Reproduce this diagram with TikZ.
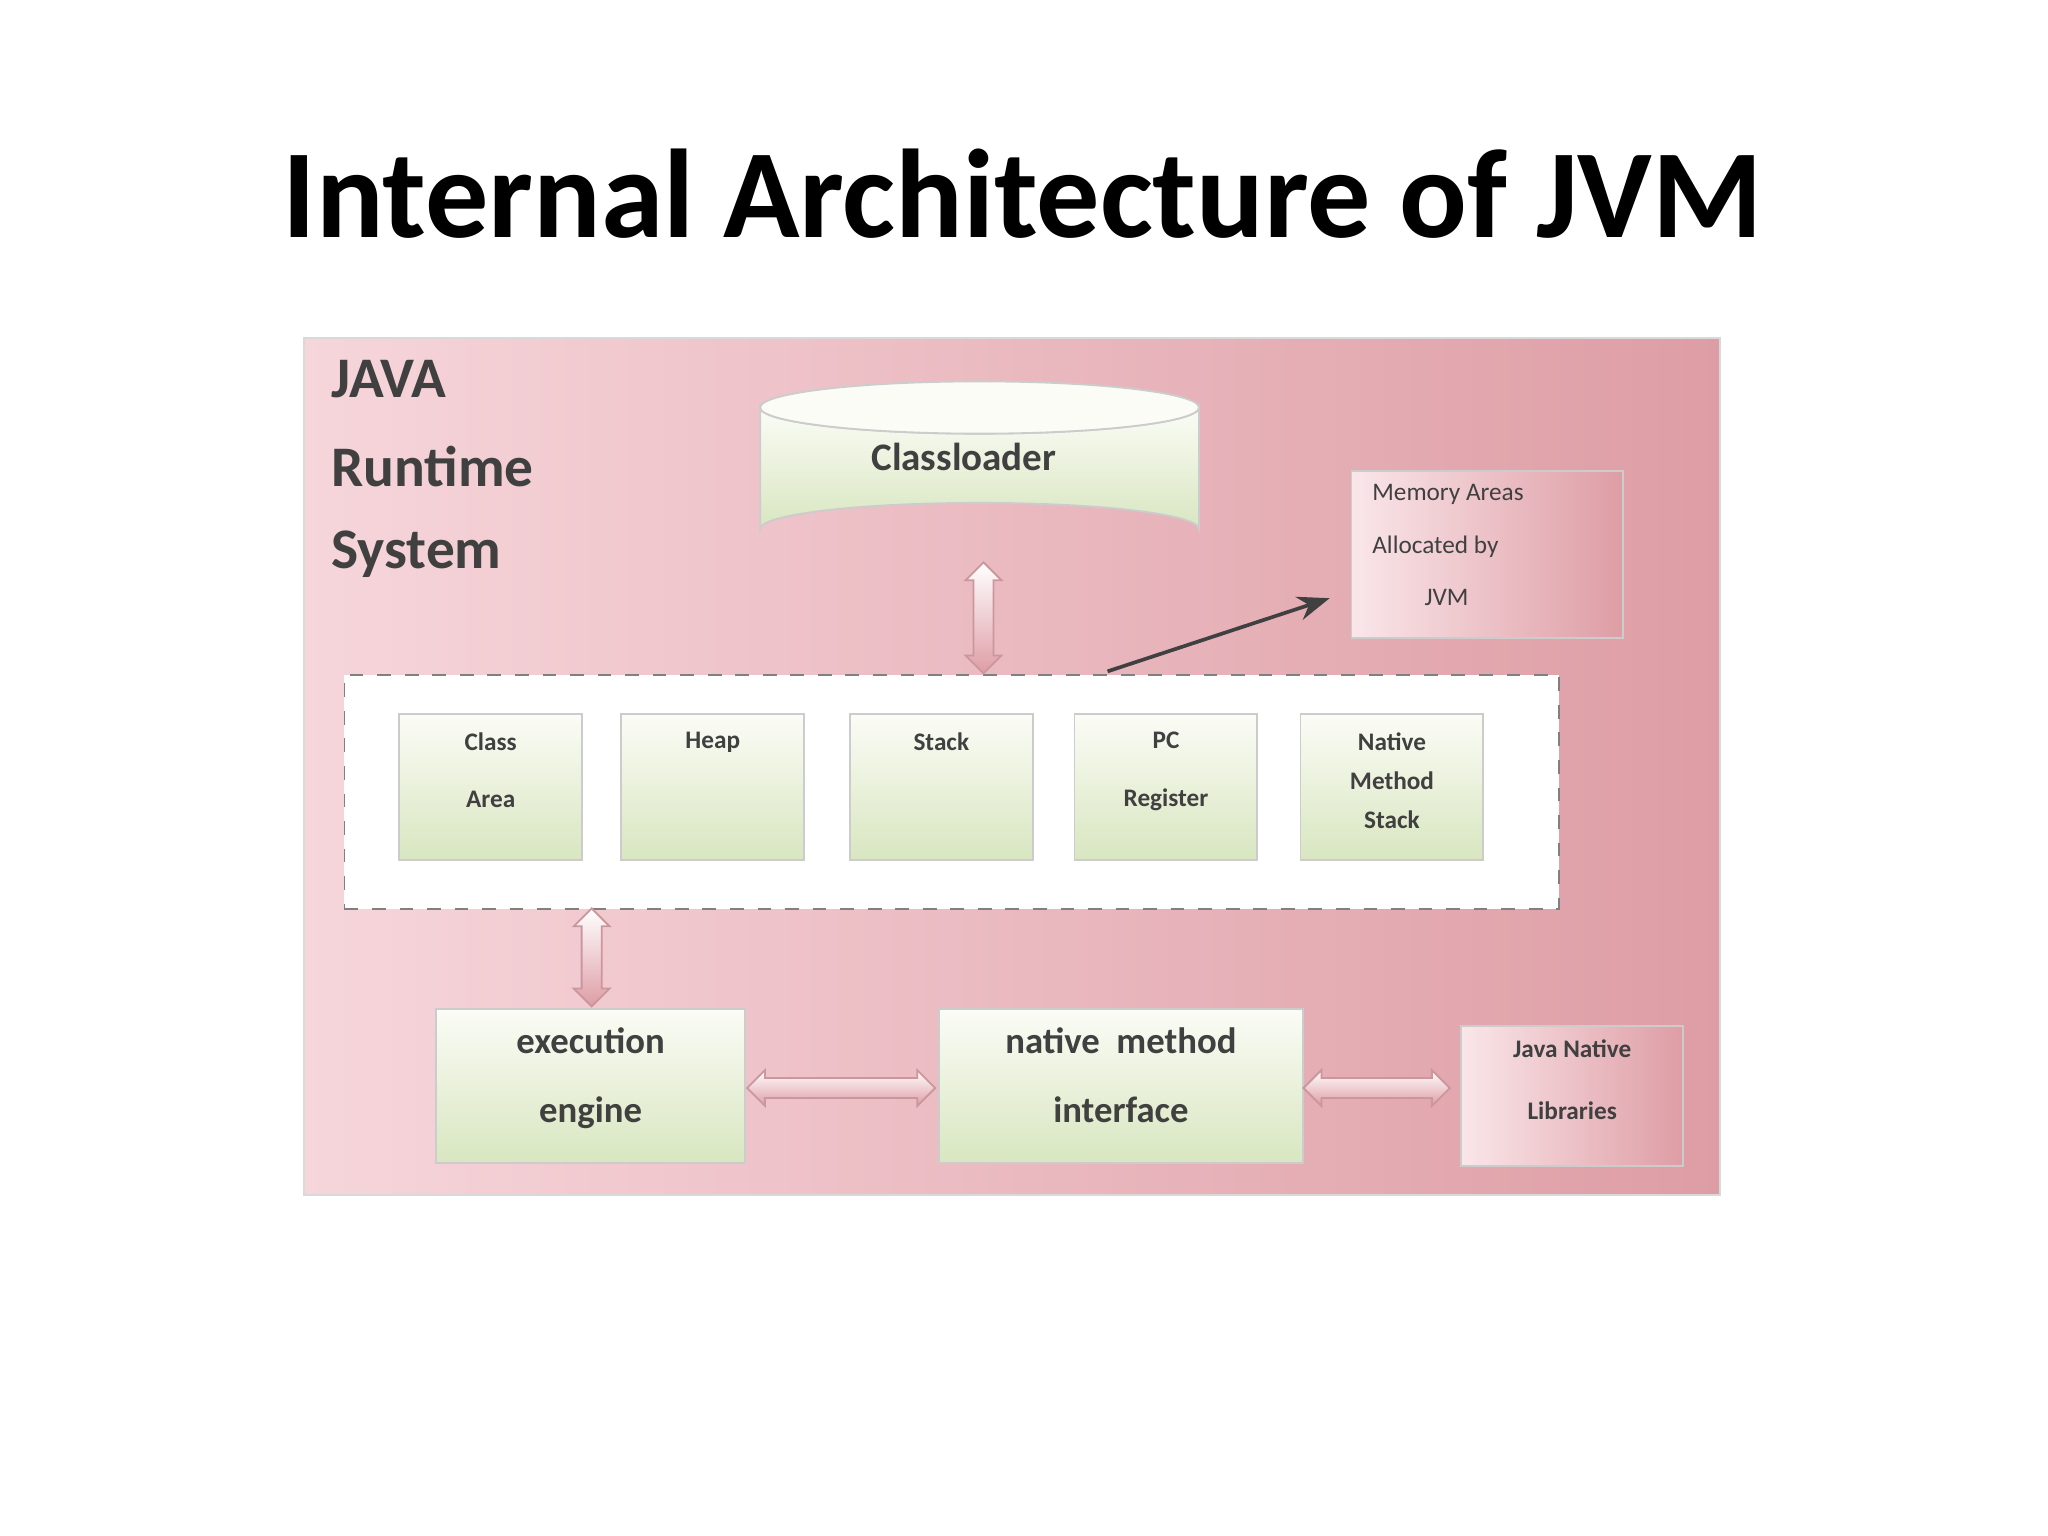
\documentclass[tikz,border=0pt]{standalone}
\usepackage{fontspec}
\setmainfont{Carlito}
\usetikzlibrary{shapes.geometric,shapes.arrows,arrows.meta}
\definecolor{pinkL}{HTML}{F6D6DB}
\definecolor{pinkD}{HTML}{DE9DA5}
\definecolor{grnT}{HTML}{FBFCF6}
\definecolor{grnB}{HTML}{D8E6C0}
\definecolor{txt}{HTML}{404040}
\tikzset{
 gbox/.style={draw=gray!40,top color=grnT,bottom color=grnB,anchor=north west},
 pbox/.style={draw=gray!40,left color=pinkL!60,right color=pinkD,anchor=north west},
 mt/.style={text=txt,font=\bfseries\fontsize{5.5}{12.5}\selectfont,align=center,anchor=north,inner sep=0},
 bt/.style={text=txt,font=\bfseries\fontsize{8}{15}\selectfont,align=center,anchor=north,inner sep=0},
 darr/.style={double arrow,draw=pinkD!80!gray,top color=white,bottom color=pinkD,minimum height=#1,minimum width=0,text height=0,text depth=0,text width=0,inner sep=0.7mm,double arrow head extend=0.6mm},
 lab/.style={text=txt,font=\bfseries\fontsize{12.5}{13}\selectfont,anchor=west,inner sep=0}
}
\begin{document}
\begin{tikzpicture}[x=0.1mm,y=-0.1mm]
\useasboundingbox (0,0) rectangle (1568,1176);
\fill[white] (0,0) rectangle (1568,1176);
\node[font=\bfseries\fontsize{27.5}{30}\selectfont] (title) at (783,148) {Internal Architecture of JVM};
\node[draw=gray!30,left color=pinkL,right color=pinkD,minimum width=108.4mm,minimum height=65.6mm,anchor=north west] (bg) at (232,258) {};
\node[lab] (l1) at (253,290) {JAVA};
\node[lab] (l2) at (253,357) {Runtime};
\node[lab] (l3) at (253,424) {System};
% cylinder
\shade[draw=gray!40,top color=grnT,bottom color=grnB]
  (582,312) -- (582,405) arc[start angle=180,end angle=360,x radius=168,y radius=20] -- (918,312) arc[start angle=0,end angle=180,x radius=168,y radius=20] -- cycle;
\draw[gray!40,fill=grnT] (750,312) ellipse[x radius=168,y radius=20];
\node[text=txt,font=\bfseries\fontsize{8.5}{10}\selectfont] (clt) at (738,350) {Classloader};
\node[pbox,minimum width=20.8mm,minimum height=12.8mm] (ma) at (1034,360) {};
\node[text=txt,font=\fontsize{5.5}{11.5}\selectfont,align=left,anchor=north west,inner sep=0] (mat) at (1050,370) {Memory Areas\\Allocated by\\\hspace*{4mm}JVM};
\node[draw=gray,dashed,fill=white,minimum width=93mm,minimum height=17.9mm,anchor=north west] (ra) at (263,516) {};
\foreach \n/\x/\t/\dy in {ca/305/{Class\\Area}/4,hp/475/{Heap}/4,st/650/{Stack}/4,pc/822/{PC\\Register}/4,nm/995/{Native\\[-4pt]Method\\[-4pt]Stack}/4}{
 \node[gbox,minimum width=14mm,minimum height=11.2mm] (\n) at (\x,546) {};
 \node[mt,text depth=0] (\n t) at ([yshift=-\dy]\n.north) {\t};}
\coordinate (s) at (848,514);
\draw[-{Stealth[length=7pt]},thick,txt] (s) -- (1018,458);
\node[darr=8.5mm,rotate=90] (a1) at (753,473) {};
\node[darr=7.5mm,rotate=90] (a2) at (453,733) {};
\node[gbox,minimum width=23.7mm,minimum height=11.8mm] (ee) at (333,772) {};
\node[bt] (eet) at ([yshift=-4]ee.north) {execution\\engine};
\node[gbox,minimum width=27.9mm,minimum height=11.8mm] (ni) at (718,772) {};
\node[bt] (nit) at ([yshift=-4]ni.north) {native\ \ method\\interface};
\node[pbox,minimum width=17mm,minimum height=10.7mm] (jn) at (1118,785) {};
\node[mt] (jnt) at ([yshift=-3]jn.north) {Java Native\\[1pt]Libraries};
\node[darr=14.4mm] (a3) at (644,833) {};
\node[darr=11.2mm] (a4) at (1054,833) {};
\end{tikzpicture}
\end{document}
